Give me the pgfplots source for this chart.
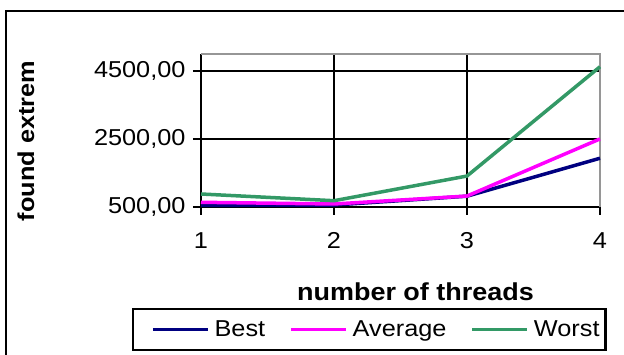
\documentclass[border=0pt]{standalone}
\usepackage{fontspec}
\setmainfont{Liberation Sans}[FakeStretch=1.1]
\usepackage{pgfplots}
\pgfplotsset{compat=1.18}

\definecolor{bestc}{RGB}{0,0,128}
\definecolor{avgc}{RGB}{255,0,255}
\definecolor{worstc}{RGB}{51,153,102}
\definecolor{bordergray}{RGB}{150,150,150}

\begin{document}
\begin{tikzpicture}[x=1pt,y=1pt,font=\fontsize{23}{27}\selectfont]
\useasboundingbox (0,0) rectangle (624,354);
% outer chart frame (open to the right and bottom)
\begin{scope}
  \clip (0,0) rectangle (624,354);
  \draw[line width=2.2pt] (6,-10) -- (6,343) -- (640,343);
\end{scope}
\begin{axis}[
  at={(201pt,147.3pt)}, anchor=south west,
  width=399pt, height=152.5pt, scale only axis,
  xmin=1, xmax=4, ymin=500, ymax=5000,
  xtick={1,2,3,4}, ytick={500,2500,4500},
  axis x line*=bottom, axis y line*=left,
  axis line style={line width=2.2pt, black, -},
  grid=major, major grid style={line width=2pt, black},
  tick align=outside, major tick length=8pt,
  tick style={line width=2.2pt, black},
  /pgf/number format/assume math mode=true,
  y tick label style={xshift=-4pt, /pgf/number format/fixed, /pgf/number format/fixed zerofill,
    /pgf/number format/precision=2, /pgf/number format/use comma, /pgf/number format/1000 sep={}},
  x tick label style={yshift=-14pt},
  clip=false,
  xlabel={\fontsize{24.5}{28}\selectfont\textbf{number of threads}},
  xlabel style={at={(axis description cs:0.5376,-0.618)}, anchor=base},
  ylabel={\textbf{found extrem}},
  ylabel style={at={(axis description cs:-0.4386,0.431)}, anchor=center, rotate=0},
  legend columns=3,
  legend image code/.code={%
    \path (-14pt,0pt) (58pt,0pt);
    \draw[#1, line width=3.5pt] (0pt,0pt) -- (55pt,0pt);},
  legend style={at={(axis description cs:-0.173,-0.664)}, anchor=north west,
    draw=black, line width=2.2pt, inner xsep=4pt, inner ysep=10pt,
    /tikz/every even column/.append style={column sep=8pt}},
]
\draw[bordergray, line width=2.2pt] (rel axis cs:0,1) -- (rel axis cs:1,1) -- (rel axis cs:1,0);
\addplot[bestc, line width=3.5pt] coordinates {(1,540) (2,550) (3,810) (4,1930)};
\addlegendentry{Best}
\addplot[avgc, line width=3.5pt] coordinates {(1,630) (2,580) (3,815) (4,2500)};
\addlegendentry{Average}
\addplot[worstc, line width=3.5pt] coordinates {(1,875) (2,677) (3,1405) (4,4630)};
\addlegendentry{Worst}
\end{axis}
\end{tikzpicture}
\end{document}
